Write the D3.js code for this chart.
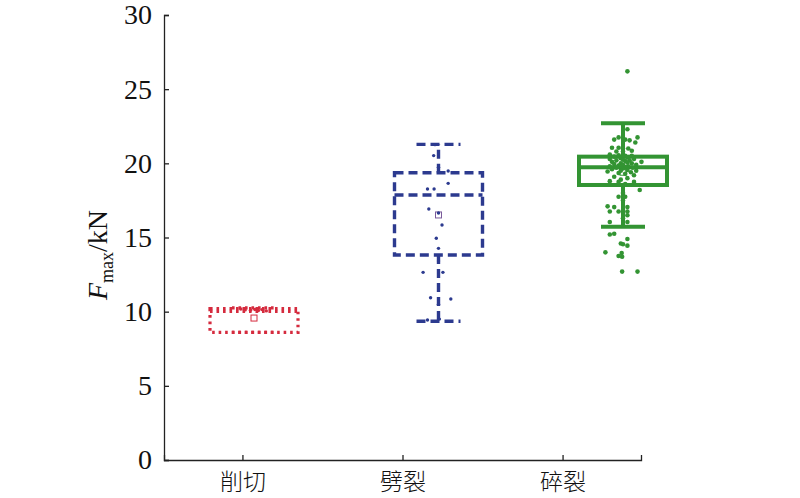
<!DOCTYPE html>
<html><head><meta charset="utf-8">
<script src="https://cdn.jsdelivr.net/npm/d3@7"></script>
<style>body{margin:0;background:#fff}</style>
</head><body>
<svg id="c" width="800" height="498"></svg>
<script>
// ---- data ----
const categories = ["削切", "劈裂", "碎裂"];
const yTicks = [0, 5, 10, 15, 20, 25, 30];
// box statistics: [whiskerLow, Q1, median, Q3, whiskerHigh, mean]
const boxStats = [
  [8.6, 8.6, 10.02, 10.2, 10.25, 9.57],
  [9.35, 13.82, 17.87, 19.37, 21.28, 16.52],
  [15.73, 18.54, 19.73, 20.45, 22.7, 19.4]
];
// points: [value, jitter (fraction of half box width)]
const pointsShear = [
  [10.12,-0.2],[10.1,-0.08],[10.15,0.02],[10.08,0.1],[10.14,0.18],[10.05,0.28],[10.18,-0.3]
];
const pointsSplit = [
  [21.26,-0.08],[20.52,-0.11],[19.73,0.0],[19.48,0.22],[18.65,0.22],[18.27,-0.25],[18.27,-0.1],
  [16.92,-0.22],[16.65,0.0],[15.84,0.08],[14.95,-0.05],[14.27,0.0],[13.42,0.0],
  [12.65,-0.35],[12.65,0.1],[10.94,-0.18],[10.85,0.28],[10.5,0.0],[9.44,-0.25],[9.5,0.02]
];
const pointsCrush = [
  [26.2,0.1],[22.3,0.1],[21.75,-0.1],[21.75,0.33],[21.6,-0.2],[21.6,0.05],[21.55,0.15],[21.4,0.28],
  [21.05,-0.25],[21.05,-0.1],[21.0,0.0],[21.0,0.12],[20.8,-0.15],[20.8,0.0],[20.85,0.2],
  [20.6,-0.3],[20.55,-0.1],[20.5,0.05],[20.5,0.2],[20.45,-0.2],[20.4,0.1],[20.35,-0.05],[20.3,0.25],
  [20.3,-0.3],[20.25,0.0],[20.2,0.15],[20.2,-0.15],[20.15,0.05],[20.1,0.42],[20.1,-0.25],[20.05,0.1],
  [20.0,-0.05],[20.0,0.2],[19.95,-0.2],[19.9,0.0],[19.9,0.3],[19.85,-0.1],[19.8,0.12],[19.8,-0.3],
  [19.75,0.05],[19.7,-0.15],[19.7,0.22],[19.65,0.0],[19.6,-0.25],[19.55,0.1],[19.5,-0.05],[19.5,0.3],
  [19.45,-0.35],[19.4,0.18],[19.35,-0.1],[19.3,0.05],[19.2,0.25],[19.1,-0.2],[19.0,0.1],[18.9,-0.05],
  [18.8,-0.3],[18.75,-0.1],[18.75,0.25],[18.6,0.05],[18.2,0.38],[18.0,0.0],[17.75,-0.1],[17.75,0.05],
  [17.5,0.0],[17.1,-0.35],[17.05,-0.2],[17.05,0.1],[16.75,-0.3],[16.75,-0.1],[16.75,0.1],[16.5,0.1],
  [16.3,0.0],[16.05,-0.3],[16.05,0.1],[15.2,-0.3],[15.25,-0.2],[14.9,0.1],[14.6,-0.05],[14.55,0.0],
  [14.45,0.1],[14.0,-0.4],[13.95,-0.03],[13.75,-0.1],[13.7,-0.02],[12.7,-0.02],[12.7,0.33]
];
const pointSets = [pointsShear, pointsSplit, pointsCrush];
const colors = ["#d52b3e", "#2c3a8f", "#339433"];

// ---- layout ----
const svg = d3.select("#c");
const mLeft = 164, mRight = 641, mTop = 15, mBottom = 460;
const y = d3.scaleLinear().domain([0, 30]).range([mBottom, mTop]);
const x = d3.scalePoint().domain(categories).range([mLeft, mRight]).padding(0.49);
const xb = d3.scalePoint().domain(categories).range([254, 623]);
const boxW = 88, capW = 44;
const styles = [
  {dash: "2.6,3.9", w: 3.2},
  {dash: "9,5", w: 3.4},
  {dash: null, w: 4}
];

// boxes
categories.forEach((c, i) => {
  const [lo, q1, med, q3, hi, mean] = boxStats[i];
  const cx = xb(c), col = colors[i], st = styles[i];
  const g = svg.append("g").attr("fill", "none").attr("stroke", col)
    .attr("stroke-width", st.w);
  if (st.dash) g.attr("stroke-dasharray", st.dash);
  g.append("line").attr("x1", cx).attr("x2", cx).attr("y1", y(q3)).attr("y2", y(hi));
  g.append("line").attr("x1", cx).attr("x2", cx).attr("y1", y(q1)).attr("y2", y(lo));
  g.append("line").attr("x1", cx - capW/2).attr("x2", cx + capW/2).attr("y1", y(hi)).attr("y2", y(hi));
  g.append("line").attr("x1", cx - capW/2).attr("x2", cx + capW/2).attr("y1", y(lo)).attr("y2", y(lo));
  g.append("rect").attr("x", cx - boxW/2).attr("y", y(q3)).attr("width", boxW).attr("height", y(q1) - y(q3));
  g.append("line").attr("x1", cx - boxW/2).attr("x2", cx + boxW/2).attr("y1", y(med)).attr("y2", y(med));
  svg.append("rect").attr("x", cx - 3).attr("y", y(mean) - 3).attr("width", 6).attr("height", 6)
    .attr("fill", "#fff").attr("stroke", i === 1 ? "#7a5a9a" : col).attr("stroke-width", 1);
  svg.append("g").selectAll("circle").data(pointSets[i]).join("circle")
    .attr("cx", d => cx + d[1] * boxW / 2)
    .attr("cy", d => y(d[0]))
    .attr("r", i === 2 ? 2.3 : 1.7)
    .attr("fill", col);
});

// axes
const yAxis = d3.axisLeft(y).tickValues(yTicks).tickSizeInner(-5).tickSizeOuter(-5).tickPadding(12);
const gy = svg.append("g").attr("transform", `translate(${mLeft},0)`).call(yAxis);
const xAxis = d3.axisBottom(x).tickSizeInner(-5).tickSizeOuter(-5).tickPadding(14);
const gx = svg.append("g").attr("transform", `translate(0,${mBottom})`).call(xAxis);
[gx, gy].forEach(g => {
  g.selectAll("path, line").attr("stroke", "#222").attr("stroke-width", 1.3);
});
gy.selectAll("text").attr("font-family", "'Liberation Serif', 'Times New Roman', serif")
  .attr("font-size", 28).attr("fill", "#111");
gx.selectAll("text").attr("font-family", "'Noto Sans CJK SC', sans-serif")
  .attr("font-size", 23).attr("font-weight", 300).attr("fill", "#111").attr("dy", "0.71em");

// y label
const yl = svg.append("text")
  .attr("transform", "translate(107,255) rotate(-90)")
  .attr("text-anchor", "middle")
  .attr("font-family", "'Liberation Serif', 'Times New Roman', serif")
  .attr("font-size", 28).attr("fill", "#111");
yl.append("tspan").attr("font-style", "italic").text("F");
yl.append("tspan").attr("font-size", 18).attr("dy", 6).text("max");
yl.append("tspan").attr("dy", -6).text("/kN");
</script>
</body></html>
